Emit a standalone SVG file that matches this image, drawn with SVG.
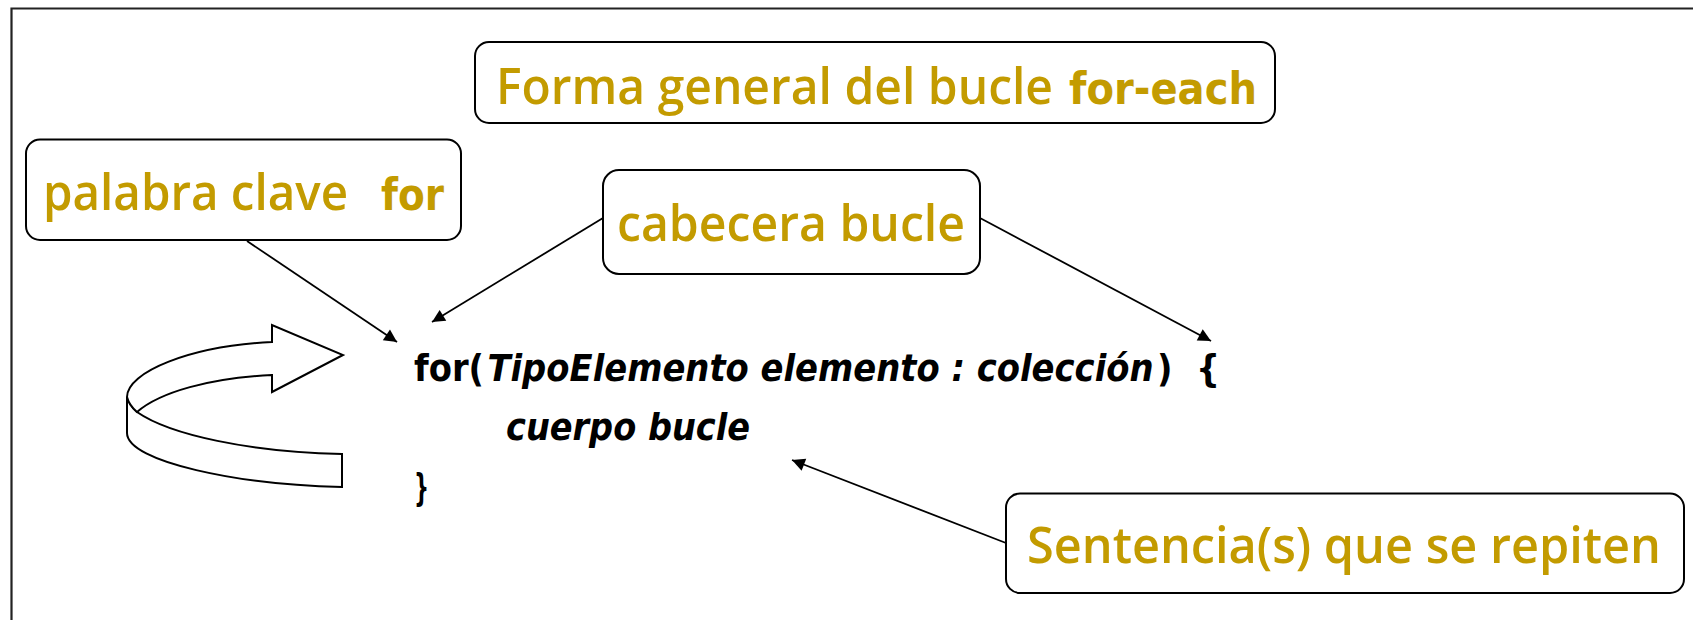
<svg xmlns="http://www.w3.org/2000/svg" width="1693" height="620" viewBox="0 0 1693 620">
<style>
.box{fill:#fff;stroke:#000;stroke-width:2}
.lbl{font-family:"Open Sans","Noto Sans",sans-serif;font-weight:600;font-size:50px;fill:#C39B00}
.kw{font-family:"DejaVu Sans",sans-serif;font-weight:bold;font-size:44px;fill:#C39B00}
.code{font-family:"DejaVu Sans",sans-serif;font-weight:bold;font-size:38px;fill:#000}
.it{font-style:italic}
.con{stroke:#000;stroke-width:1.8;fill:none;marker-end:url(#ah)}
.loop{fill:#fff;stroke:#000;stroke-width:2;stroke-linejoin:miter}
</style>
<defs>
<marker id="ah" viewBox="0 0 10 10" refX="10" refY="5" markerWidth="8" markerHeight="8" markerUnits="userSpaceOnUse" orient="auto" style="overflow:visible">
<path d="M0,0 L10,5 L0,10 Z" fill="#000" transform="scale(1.6)translate(-3.75,-1.9)"/>
</marker>
</defs>
<rect width="1693" height="620" fill="#fff"/>
<path d="M11.5,620 V8.5 H1693" fill="none" stroke="#222" stroke-width="2.2"/>

<g id="connectors">
<line class="con" x1="247" y1="241" x2="397" y2="342"/>
<line class="con" x1="603" y1="218" x2="432" y2="322"/>
<line class="con" x1="980" y1="218" x2="1211" y2="341"/>
<line class="con" x1="1006" y1="543" x2="792" y2="460"/>
</g>

<g id="title">
<rect class="box" x="475" y="42" width="800" height="81" rx="14"/>
<text class="lbl" x="496" y="104" textLength="557" lengthAdjust="spacingAndGlyphs">Forma general del bucle</text>
<text class="kw" x="1069" y="104" textLength="188" lengthAdjust="spacingAndGlyphs">for-each</text>
</g>

<g id="palabra">
<rect class="box" x="26" y="139.5" width="435" height="100.5" rx="14"/>
<text class="lbl" x="43" y="210" textLength="305" lengthAdjust="spacingAndGlyphs">palabra clave</text>
<text class="kw" x="381" y="210" textLength="63" lengthAdjust="spacingAndGlyphs">for</text>
</g>

<g id="cabecera">
<rect class="box" x="603" y="170" width="377" height="104" rx="16"/>
<text class="lbl" x="617" y="241" textLength="348" lengthAdjust="spacingAndGlyphs">cabecera bucle</text>
</g>

<g id="sentencia">
<rect class="box" x="1006" y="493.5" width="678" height="99.5" rx="14"/>
<text class="lbl" x="1027" y="563" textLength="634" lengthAdjust="spacingAndGlyphs">Sentencia(s) que se repiten</text>
</g>

<g id="code">
<text class="code" x="414" y="381" textLength="806" lengthAdjust="spacingAndGlyphs">for(&#8202;<tspan class="it">TipoElemento elemento : colección</tspan>&#8202;) &#160;{</text>
<text class="code it" x="506" y="440" textLength="244" lengthAdjust="spacingAndGlyphs">cuerpo bucle</text>
<text class="code" x="414" y="500" textLength="15" lengthAdjust="spacingAndGlyphs">}</text>
</g>

<g id="loop-arrow">
<path class="loop" d="M127,397 Q129,405 137,412 C170,435 250,452 342,454 L342,487 C240,485 127,462 127,433 Z"/>
<path class="loop" d="M137,412 C160,392 210,378 272,375 L272,392 L343,355 L272,325 L272,342 C190,346 127,372 127,397 Q129,405 137,412 Z"/>
</g>
</svg>
